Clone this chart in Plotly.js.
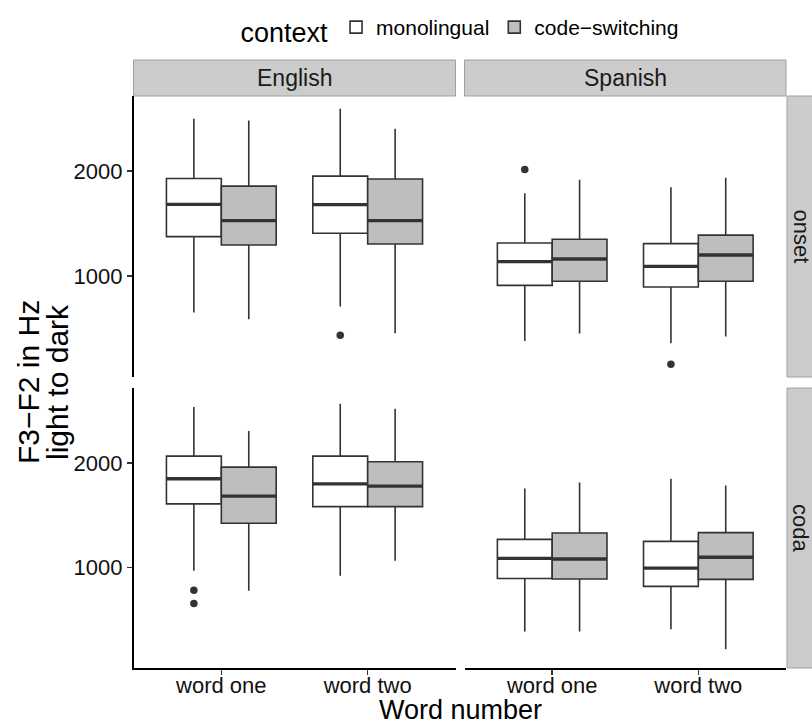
<!DOCTYPE html>
<html>
<head>
<meta charset="utf-8">
<script src="https://cdn.plot.ly/plotly-3.0.1.min.js"></script>
<style>
  html, body { margin: 0; padding: 0; background: #ffffff; }
  #chart { width: 812px; height: 726px; }
</style>
</head>
<body>
<div id="chart"></div>
<script>
// ---- data -----------------------------------------------------------------
const categories = ['word one', 'word two'];
const contexts = ['monolingual', 'code\u2212switching'];
const languages = ['English', 'Spanish'];
const positions = ['onset', 'coda'];

// Panels in order: English onset, Spanish onset, English coda, Spanish coda.
// Each row holds one value per word (word one, word two).
const monoLower  = [[651, 709], [381, 359], [967, 919], [386, 408]];
const monoQ1     = [[1375, 1407], [911, 895], [1607, 1581], [894, 818]];
const monoMedian = [[1683, 1680], [1137, 1092], [1847, 1799], [1086, 993]];
const monoQ3     = [[1930, 1952], [1314, 1309], [2064, 2064], [1268, 1249]];
const monoUpper  = [[2499, 2594], [1788, 1845], [2534, 2566], [1754, 1847]];

const csLower  = [[588, 454], [451, 423], [776, 1063], [386, 217]];
const csQ1     = [[1295, 1305], [950, 950], [1422, 1581], [888, 885]];
const csMedian = [[1528, 1528], [1162, 1200], [1681, 1777], [1080, 1096]];
const csQ3     = [[1857, 1924], [1350, 1390], [1959, 2010], [1329, 1332]];
const csUpper  = [[2483, 2404], [1918, 1937], [2304, 2518], [1811, 1782]];

// Outlying observations: panel index, word index, context index, value
const outlierPanel   = [0, 1, 1, 2, 2];
const outlierWord    = [1, 0, 1, 0, 0];
const outlierContext = [0, 0, 0, 0, 0];
const outlierValue   = [435, 2016, 159, 782, 655];

const yTitleLines = ['F3\u2212F2 in Hz', 'light to dark'];
const xTitle = 'Word number';

// ---- styling --------------------------------------------------------------
const W = 812, H = 726;
const FONT = 'Liberation Sans, Arial, Helvetica, sans-serif';
const INK = '#333333';
const fills = ['#ffffff', '#bebebe'];
const stats = [
  { lower: monoLower, q1: monoQ1, median: monoMedian, q3: monoQ3, upper: monoUpper },
  { lower: csLower,   q1: csQ1,   median: csMedian,   q3: csQ3,   upper: csUpper }
];

// dodged box placement: two boxes share 0.75 of each category slot
const dodge = 0.75;
const boxW = dodge / contexts.length;
const offsetOf = c => (c - (contexts.length - 1) / 2) * boxW;
const xPos = (wordIdx, c) => wordIdx + 1 + offsetOf(c);

// panel p -> axis suffixes (onset = top row, coda = bottom row)
const axisSuffix = ['3', '4', '', '2'];
const colDomains = [[133.5 / W, 455.5 / W], [464.5 / W, 786 / W]];
const rowDomains = [[1 - 377 / H, 1 - 96 / H], [1 - 668 / H, 1 - 388 / H]];

// shared y range with 5% padding around all plotted values
const allVals = [].concat(
  ...stats.map(s => [].concat(...s.lower, ...s.upper)),
  outlierValue
);
const yMin = Math.min(...allVals), yMax = Math.max(...allVals);
const pad = (yMax - yMin) * 0.05;
const yRange = [yMin - pad, yMax + pad];

// ---- traces ---------------------------------------------------------------
const traces = [];
for (let p = 0; p < 4; p++) {
  const sfx = axisSuffix[p];
  const xa = 'x' + sfx, ya = 'y' + sfx;
  contexts.forEach((ctx, c) => {
    const s = stats[c];
    const xs = categories.map((_, k) => xPos(k, c));
    traces.push({
      type: 'box', name: ctx, legendgroup: ctx, showlegend: p === 0,
      xaxis: xa, yaxis: ya,
      x: xs,
      q1: s.q1[p], median: s.median[p], q3: s.q3[p],
      lowerfence: s.lower[p], upperfence: s.upper[p],
      width: boxW, whiskerwidth: 0, boxpoints: false,
      fillcolor: fills[c],
      line: { color: INK, width: 1.6 },
      hoverinfo: 'skip'
    });
    // heavier median bar
    traces.push({
      type: 'box', name: ctx, legendgroup: ctx, showlegend: false,
      xaxis: xa, yaxis: ya,
      x: xs,
      q1: s.median[p], median: s.median[p], q3: s.median[p],
      lowerfence: s.median[p], upperfence: s.median[p],
      width: boxW, whiskerwidth: 0, boxpoints: false,
      fillcolor: 'rgba(0,0,0,0)',
      line: { color: INK, width: 3.4 },
      hoverinfo: 'skip'
    });
  });
  const idx = outlierPanel.map((q, i) => q === p ? i : -1).filter(i => i >= 0);
  if (idx.length) {
    traces.push({
      type: 'scatter', mode: 'markers', showlegend: false,
      xaxis: xa, yaxis: ya,
      x: idx.map(i => xPos(outlierWord[i], outlierContext[i])),
      y: idx.map(i => outlierValue[i]),
      marker: { color: INK, size: 7.5 },
      hoverinfo: 'skip'
    });
  }
}

// ---- layout ---------------------------------------------------------------
const TICK = 22;
const layout = {
  width: W, height: H,
  margin: { l: 0, r: 0, t: 0, b: 0 },
  paper_bgcolor: '#ffffff', plot_bgcolor: '#ffffff',
  font: { family: FONT, color: '#000000', size: 21 },
  boxmode: 'overlay',
  showlegend: true,
  legend: {
    orientation: 'h', x: 461 / W, xanchor: 'center', y: 1 - 30 / H, yanchor: 'middle',
    title: { text: 'context', side: 'left', font: { size: 27, family: FONT, color: '#000' } },
    font: { size: 21, family: FONT, color: '#000' },
    itemwidth: 30, itemclick: false, itemdoubleclick: false,
    bgcolor: 'rgba(0,0,0,0)'
  },
  shapes: [],
  annotations: []
};

for (let p = 0; p < 4; p++) {
  const col = p % 2, row = Math.floor(p / 2);
  const sfx = axisSuffix[p];
  const isBottom = row === 1, isLeft = col === 0;
  layout['xaxis' + sfx] = {
    domain: colDomains[col], anchor: 'y' + sfx,
    range: [0.4, categories.length + 0.6],
    tickvals: categories.map((_, k) => k + 1), ticktext: categories,
    showgrid: false, zeroline: false,
    showline: isBottom, linecolor: '#000000', linewidth: 1.6,
    ticks: isBottom ? 'outside' : '', ticklen: 5, tickwidth: 1.4, tickcolor: INK,
    showticklabels: isBottom, ticklabelstandoff: -8,
    tickfont: { size: TICK, family: FONT, color: '#111111' },
    fixedrange: true
  };
  layout['yaxis' + sfx] = {
    domain: rowDomains[row], anchor: 'x' + sfx,
    range: yRange,
    tickvals: [1000, 2000],
    showgrid: false, zeroline: false,
    showline: isLeft, linecolor: '#000000', linewidth: 1.6,
    ticks: isLeft ? 'outside' : '', ticklen: 5, tickwidth: 1.4, tickcolor: INK,
    showticklabels: isLeft,
    tickfont: { size: TICK, family: FONT, color: '#111111' },
    fixedrange: true
  };
}

// facet strips
const stripFill = '#cccccc', stripLine = '#a0a0a0';
languages.forEach((lang, col) => {
  const d = colDomains[col];
  layout.shapes.push({
    type: 'rect', xref: 'paper', yref: 'paper',
    x0: d[0], x1: d[1], y0: 1 - 96 / H, y1: 1 - 60 / H,
    fillcolor: stripFill, line: { color: stripLine, width: 1 }, layer: 'below'
  });
  layout.annotations.push({
    xref: 'paper', yref: 'paper', x: (d[0] + d[1]) / 2, y: 1 - 78 / H,
    text: lang, showarrow: false, xanchor: 'center', yanchor: 'middle',
    font: { size: 23, family: FONT, color: '#1a1a1a' }
  });
});
positions.forEach((pos, row) => {
  const d = rowDomains[row];
  layout.shapes.push({
    type: 'rect', xref: 'paper', yref: 'paper',
    x0: 787 / W, x1: 823 / W, y0: d[0], y1: d[1],
    fillcolor: stripFill, line: { color: stripLine, width: 1 }, layer: 'below'
  });
  layout.annotations.push({
    xref: 'paper', yref: 'paper', x: 801 / W, y: (d[0] + d[1]) / 2,
    text: pos, showarrow: false, textangle: 90, xanchor: 'center', yanchor: 'middle',
    borderpad: 0,
    font: { size: 22, family: FONT, color: '#1a1a1a' }
  });
});

// axis titles
layout.annotations.push({
  xref: 'paper', yref: 'paper', x: 460 / W, y: 1 - 710 / H,
  text: xTitle, showarrow: false, xanchor: 'center', yanchor: 'middle', borderpad: 0,
  font: { size: 27, family: FONT, color: '#000' }
});
const yTitleX = [28, 57];
yTitleLines.forEach((line, i) => {
  layout.annotations.push({
    xref: 'paper', yref: 'paper', x: yTitleX[i] / W, y: 1 - 382 / H,
    text: line, showarrow: false, textangle: -90,
    xanchor: 'center', yanchor: 'middle', borderpad: 0,
    font: { size: 30, family: FONT, color: '#000' }
  });
});

Plotly.newPlot('chart', traces, layout, { displayModeBar: false, staticPlot: true });
</script>
</body>
</html>
